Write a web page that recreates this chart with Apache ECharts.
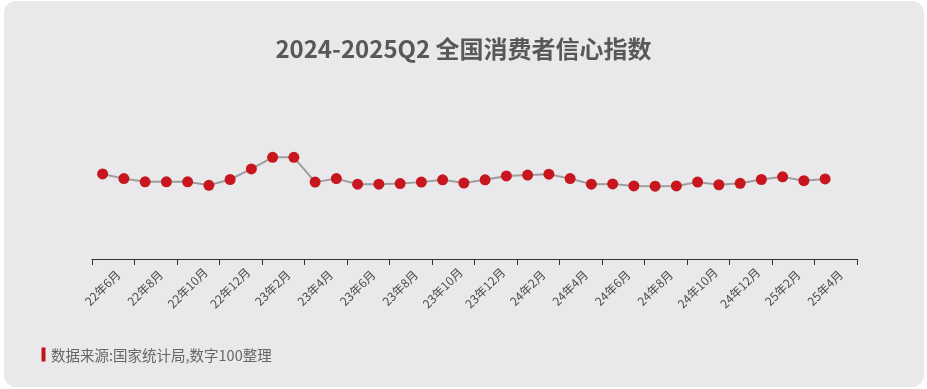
<!DOCTYPE html>
<html>
<head>
<meta charset="utf-8">
<script src="https://cdn.jsdelivr.net/npm/echarts@6/dist/echarts.min.js"></script>
<style>
  html, body { margin: 0; padding: 0; background: #ffffff; width: 927px; height: 389px; overflow: hidden; }
  #panel { position: absolute; left: 4px; top: 1px; width: 920px; height: 386px; border-radius: 12px; background: #e9e9eb; }
  #chart { position: absolute; left: 0; top: 0; width: 927px; height: 389px; }
</style>
</head>
<body>
<div id="panel"></div>
<div id="chart"></div>
<script>
// Month categories (the last slot has no value)
const months = [
  '22年6月','22年7月','22年8月','22年9月','22年10月','22年11月','22年12月',
  '23年1月','23年2月','23年3月','23年4月','23年5月','23年6月','23年7月','23年8月','23年9月','23年10月','23年11月','23年12月',
  '24年1月','24年2月','24年3月','24年4月','24年5月','24年6月','24年7月','24年8月','24年9月','24年10月','24年11月','24年12月',
  '25年1月','25年2月','25年3月','25年4月','25年5月'
];
// Consumer confidence index values
const confidence = [
  89.1, 87.5, 86.4, 86.4, 86.4, 85.2, 87.2,
  90.8, 94.8, 94.8, 86.3, 87.5, 85.6, 85.6, 85.8, 86.3, 87.1, 86.0, 87.1,
  88.4, 88.7, 89.0, 87.5, 85.6, 85.7, 85.0, 84.9, 85.0, 86.3, 85.4, 85.9,
  87.2, 88.1, 86.8, 87.4
];
const titleText = '2024-2025Q2 全国消费者信心指数';
const sourceText = '数据来源:国家统计局,数字100整理';

const chart = echarts.init(document.getElementById('chart'), null, { renderer: 'canvas' });
chart.setOption({
  backgroundColor: 'transparent',
  animation: false,
  title: {
    text: titleText,
    left: 'center',
    top: 32,
    textStyle: { fontFamily: 'Noto Sans CJK SC', fontSize: 24, fontWeight: 'bold', color: '#585858' }
  },
  grid: { left: 92, right: 70, top: 69, bottom: 130, containLabel: false },
  xAxis: {
    type: 'category',
    data: months,
    boundaryGap: true,
    axisLine: { lineStyle: { color: '#333333', width: 1 } },
    axisTick: { show: true, length: 6, interval: 1, lineStyle: { color: '#333333' } },
    axisLabel: {
      interval: 1,
      rotate: 45,
      align: 'center',
      verticalAlign: 'middle',
      margin: 29,
      fontFamily: 'Noto Sans CJK SC',
      fontSize: 12,
      color: '#4e4e4e'
    }
  },
  yAxis: {
    type: 'value',
    min: 60,
    max: 125,
    show: false,
    splitLine: { show: false }
  },
  series: [{
    type: 'line',
    data: confidence,
    symbol: 'circle',
    symbolSize: 11,
    showAllSymbol: true,
    lineStyle: { color: '#9d9d9d', width: 2 },
    itemStyle: { color: '#c8161e' }
  }],
  graphic: [
    { type: 'rect', shape: { x: 41.5, y: 347.5, width: 4, height: 14 }, style: { fill: '#c0141c' } },
    { type: 'text', x: 51, y: 355, style: { text: sourceText, fontFamily: 'Noto Sans CJK SC', fontSize: 14.5, fill: '#666666', verticalAlign: 'middle' } }
  ]
});
</script>
</body>
</html>
